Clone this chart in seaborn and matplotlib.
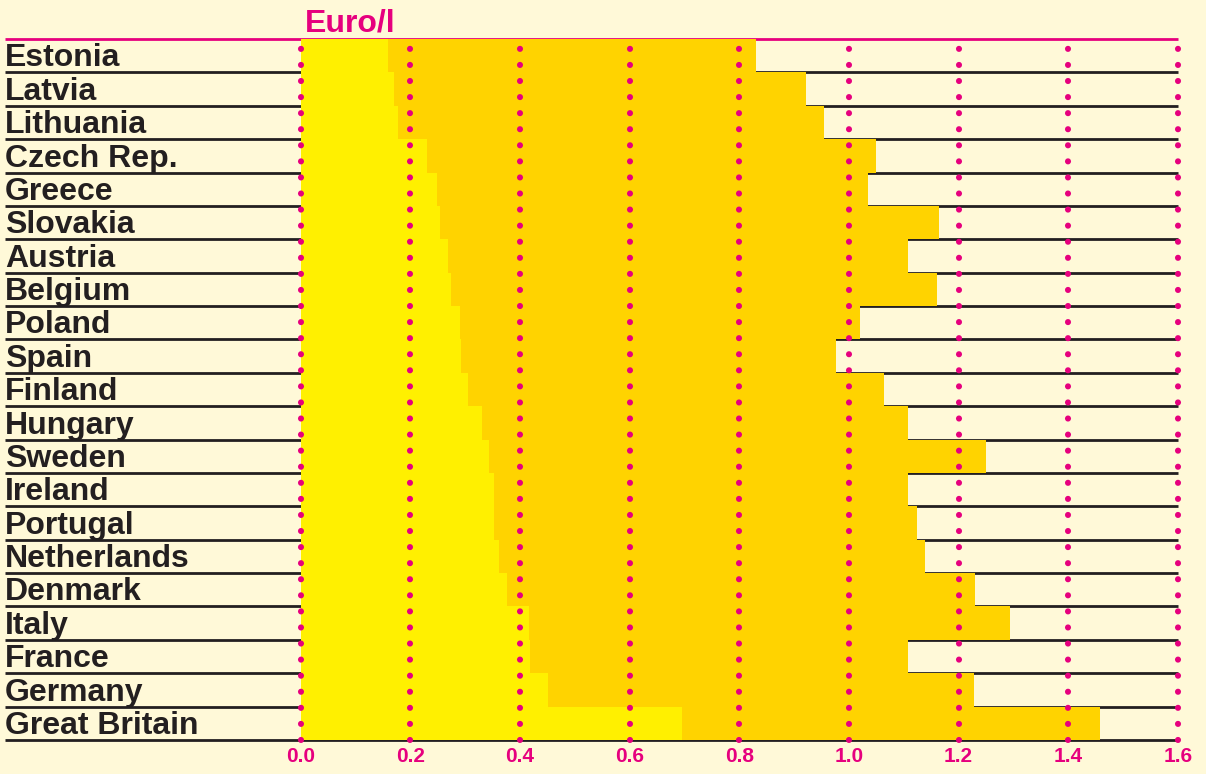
import numpy as np
import pandas as pd
import seaborn as sns
import matplotlib.pyplot as plt

# fuel price per litre, light part and total
countries = ['Estonia', 'Latvia', 'Lithuania', 'Czech Rep.', 'Greece', 'Slovakia', 'Austria',
             'Belgium', 'Poland', 'Spain', 'Finland', 'Hungary', 'Sweden', 'Ireland', 'Portugal',
             'Netherlands', 'Denmark', 'Italy', 'France', 'Germany', 'Great Britain']
light = [0.160, 0.170, 0.178, 0.231, 0.249, 0.254, 0.269, 0.274, 0.291, 0.293, 0.305,
         0.331, 0.344, 0.353, 0.353, 0.362, 0.376, 0.417, 0.418, 0.451, 0.695]
total = [0.830, 0.922, 0.955, 1.049, 1.034, 1.164, 1.107, 1.160, 1.020, 0.976, 1.064,
         1.107, 1.250, 1.107, 1.124, 1.139, 1.230, 1.293, 1.107, 1.228, 1.457]
ticks = [0.0, 0.2, 0.4, 0.6, 0.8, 1.0, 1.2, 1.4, 1.6]

bg = '#FFF9D8'
light_col = '#FFF000'
dark_col = '#FFD300'
magenta = '#E6007E'
ink = '#231F20'

df = pd.DataFrame({'country': countries, 'light': light, 'total': total})

sns.set_style('white')
plt.rcParams['font.family'] = ['Liberation Sans', 'DejaVu Sans']

fig = plt.figure(figsize=(12.06, 7.74), dpi=100, facecolor=bg)
ax = fig.add_axes([300.5 / 1206, 1 - 740 / 774, (1178 - 300.5) / 1206, (740 - 39) / 774])
ax.set_facecolor(bg)

# row separator lines (behind the bars)
trans = ax.get_yaxis_transform()
x0 = (5 - 300.5) / 877.5
for i in range(len(countries)):
    ax.plot([x0, 1], [i + 0.5, i + 0.5], color=ink, lw=2, transform=trans,
            clip_on=False, zorder=0.5, solid_capstyle='butt')
ax.plot([x0, 1], [-0.5, -0.5], color=magenta, lw=2, transform=trans,
        clip_on=False, zorder=0.5, solid_capstyle='butt')

sns.barplot(data=df, x='total', y='country', color=dark_col, saturation=1,
            width=1, orient='h', ax=ax, zorder=1, linewidth=0, edgecolor='none')
sns.barplot(data=df, x='light', y='country', color=light_col, saturation=1,
            width=1, orient='h', ax=ax, zorder=1, linewidth=0, edgecolor='none')

# dotted magenta grid on top
for t in ticks:
    ax.axvline(t, color=magenta, lw=4.4, linestyle=(0, (0.01, 2.62)),
               dash_capstyle='round', zorder=3, clip_on=False)

ax.set_xlim(0, 1.6)
ax.set_ylim(len(countries) - 0.5, -0.5)
ax.set_xticks(ticks)
ax.set_xticklabels([f'{t:.1f}' for t in ticks], color=magenta, fontsize=15, fontweight='bold')
ax.tick_params(axis='x', length=0, pad=5)
ax.set_yticks([])
ax.set_xlabel('')
ax.set_ylabel('')
for s in ax.spines.values():
    s.set_visible(False)

for i, c in enumerate(countries):
    ax.text(x0, i + 0.08, c, transform=trans, ha='left', va='center',
            fontsize=23, fontweight='bold', color=ink)

ax.text(0.005, 1.0, 'Euro/l', transform=ax.transAxes, ha='left', va='bottom',
        fontsize=23, fontweight='bold', color=magenta)

fig.savefig('out.png', dpi=100, facecolor=bg)
